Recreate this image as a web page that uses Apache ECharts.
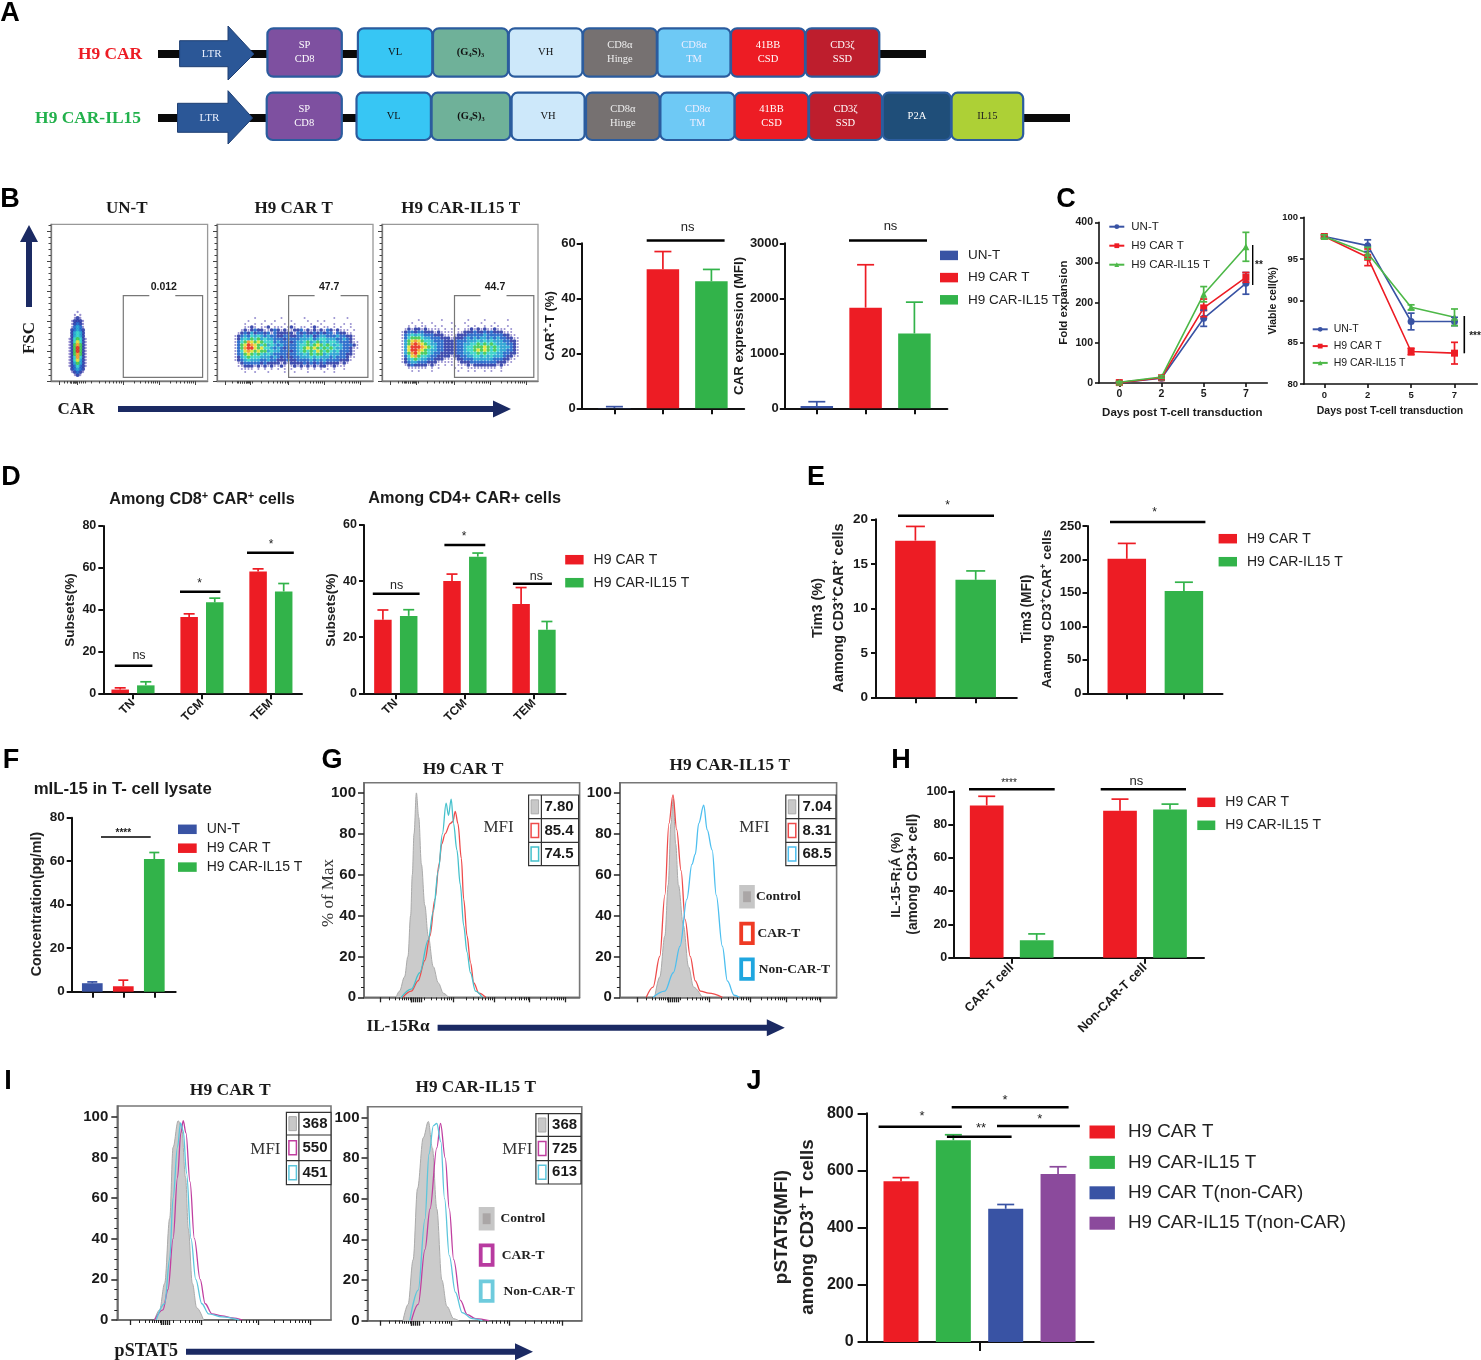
<!DOCTYPE html>
<html><head><meta charset="utf-8">
<style>html,body{margin:0;padding:0;background:#fff}#c{width:1481px;height:1360px}</style>
<script src="https://cdn.jsdelivr.net/npm/echarts@6/dist/echarts.min.js"></script>
</head><body><div id="c"></div>
<script>
/* ---------- data ---------- */
const groupNames3 = ['UN-T','H9 CAR T','H9 CAR-IL15 T'];
const carPctValues = [0.1,50.6,46.2],  carPctTops = [0.6,57,50.5];
const carMfiValues = [40,1830,1360],   carMfiTops = [120,2610,1930];
const cDays = ['0','2','5','7'];
const foldUnT  = [1,12,161,248],  foldUnTErr  = [1,3,20,27];
const foldCar  = [1,13,187,263],  foldCarErr  = [2,3,22,12];
const foldIL15 = [2,15,221,339],  foldIL15Err = [2,3,19,36];
const viaUnT   = [97.7,96.6,87.5,87.5], viaUnTErr  = [0.2,0.7,1,0.5];
const viaCar   = [97.7,95.2,83.9,83.7], viaCarErr  = [0.2,1,0.4,1.3];
const viaIL15  = [97.7,95.7,89.2,88],   viaIL15Err = [0.2,0.7,0.3,1];
const subsetCats = ['TN','TCM','TEM'];
const cd8Car = [1.8,36.5,58.3],  cd8CarTops = [2.6,38,59.5];
const cd8IL  = [3.8,43.5,48.7],  cd8ILTops  = [5.5,45.5,52.5];
const cd4Car = [26.2,40,31.8],   cd4CarTops = [29.7,42.5,37.7];
const cd4IL  = [27.6,48.7,22.7], cd4ILTops  = [29.8,50,25.6];
const tim3Pct = [17.6,13.2], tim3PctTops = [19.2,14.2];
const tim3Mfi = [201,153],   tim3MfiTops = [224,166];
const mil15 = [3.9,2.5,61],  mil15Tops = [4.5,5.3,64];
const il15rCats = ['CAR-T cell','Non-CAR-T cell'];
const il15rCar = [91.5,88.3], il15rCarTops = [97,95.3];
const il15rIL  = [10.5,89],   il15rILTops  = [14.3,92.3];
const pstatNames = ['H9 CAR T','H9 CAR-IL15 T','H9 CAR T(non-CAR)','H9 CAR-IL15 T(non-CAR)'];
const pstat = [562,706,466,588], pstatTops = [575,725,481,613];

/* histograms: [channel, % of max] */
const g1Control=[[225,0],[235,3],[250,10],[260,20],[268,40],[273,60],[278,80],[285,100],[292,88],[300,65],[310,45],[320,30],[335,15],[350,7],[365,2],[380,0]];
const g1Car=[[245,0],[270,3],[290,8],[310,18],[325,30],[340,48],[352,65],[360,75],[370,80],[385,85],[393,86],[400,91],[408,85],[418,68],[425,48],[435,30],[445,17],[455,7],[470,2],[490,0]];
const g1Non=[[240,0],[270,4],[295,12],[320,28],[335,42],[350,62],[362,80],[373,95],[380,89],[388,97],[395,85],[405,72],[415,55],[425,35],[435,22],[445,12],[460,3],[480,0]];
const g2Control=[[990,0],[1005,10],[1020,30],[1030,55],[1038,85],[1045,97],[1052,75],[1060,55],[1075,35],[1090,15],[1105,5],[1130,0]];
const g2Car=[[965,0],[985,5],[1005,20],[1020,50],[1032,85],[1044,99],[1055,82],[1068,62],[1080,38],[1095,20],[1110,8],[1125,3],[1150,2],[1190,0]];
const g2Non=[[985,0],[1020,3],[1045,12],[1065,25],[1085,48],[1100,65],[1110,70],[1120,85],[1135,94],[1145,82],[1160,72],[1172,50],[1190,25],[1205,8],[1225,1],[1240,0]];
const i1Control=[[250,0],[265,5],[280,18],[295,50],[305,85],[320,98],[330,95],[342,70],[350,45],[362,18],[375,6],[395,0]];
const i1Car=[[250,0],[275,5],[290,15],[305,40],[318,70],[328,92],[335,98],[343,92],[355,68],[368,40],[385,20],[400,8],[420,3],[450,2],[480,1],[510,0]];
const i1Non=[[255,0],[280,8],[295,30],[305,60],[318,85],[327,97],[335,93],[345,72],[358,40],[372,20],[390,8],[410,3],[450,1.5],[500,0]];
const i2Control=[[985,0],[1000,8],[1015,30],[1028,65],[1045,90],[1060,98],[1072,85],[1085,55],[1100,20],[1115,7],[1135,1],[1150,0]];
const i2Car=[[1010,0],[1030,8],[1050,35],[1065,55],[1085,85],[1096,97],[1110,80],[1122,55],[1135,30],[1155,10],[1175,3],[1200,1],[1240,0]];
const i2Non=[[1005,0],[1030,15],[1050,50],[1062,82],[1075,96],[1085,97],[1097,88],[1108,60],[1122,32],[1140,14],[1160,4],[1190,1],[1220,0]];
const gMfi1=['7.80','85.4','74.5'], gMfi2=['7.04','8.31','68.5'], iMfi1=['368','550','451'], iMfi2=['368','725','613'];

/* flow density, read by eye: one digit per cell, 0 = empty, 9 = densest */
const flowUnT=['0001000','0010100','0012100','0122210','0123210','0134310','0234320','0245420','0245420','1256521','1257521','1268621','1269621','1269621','1268621','1258521','1257421','1246421','1235321','0234320','0123210','0012100'];
const flowCar=[
'0000000100000001000000100000000100010000',
'0000010000100100001000010010100000000000',
'0000100101001000100100001001000100101000',
'0000112101120111012101101210110101001000',
'0001212322112321211223121212132121110100',
'0012324233231322222132322323233132211000',
'0123435454343322332233434234433343322100',
'0124546564544333233334445345544433432100',
'0135687676555343332344564564545543332110',
'0136798765645434333345565676565454333210',
'0136899767554343233345676765656544332110',
'0135787676645443332345656576565453332100',
'0134676565454333323344546566454443322100',
'0124565554443432322334445454443433321100',
'0123454443343322232233334343433332221000',
'0012333332322221212222323232322221210000',
'0011222121212112101212121212211211100000',
'0001111010101010101001010101010100100000',
'0000100100010000100100010000100100000000'];
const flowIL=[
'0000001000000100000001000010000001000000',
'0000100100100000100010000100010000000000',
'0001010110010100010001010010101001000000',
'0012122121111010101011212121121110100000',
'0123323322212111101122232232322211100000',
'0134545433322211112223333343333322110000',
'0135666544333222122234343443434332211000',
'0146787655433322223334445454544433221000',
'0146898765443322223344556565654443321000',
'0147999876543322223345566676565444321000',
'0147998765443322223345567676565443321000',
'0146897665433222223344556565554433221000',
'0135786554332222122334455454544432211000',
'0124565443322211112233344444433322110000',
'0123443332221111101222333333332221100000',
'0012322221211010101112122222221211000000',
'0001111110101000010101111111110100000000',
'0000101000100000001001010010100100000000'];
const flowGates=['0.012','47.7','44.7'];
const flowTitles=['UN-T','H9 CAR T','H9 CAR-IL15 T'];

const carParts=[['SP\nCD8','#7E50A0','#fff'],['VL','#37C6F4','#111'],['(G₄S)₃','#6FB199','#111'],['VH','#CDE8FA','#111'],['CD8α\nHinge','#767171','#eee'],['CD8α\nTM','#6EC9F5','#eef'],['41BB\nCSD','#ED1C24','#fff'],['CD3ζ\nSSD','#BE1E2D','#fff'],['P2A','#1F4E79','#fff'],['IL15','#ADD036','#222']];

/* ---------- builders ---------- */
const SANS='"Liberation Sans",Arial,sans-serif', SERIF='"Liberation Serif","Times New Roman",serif';
const RED='#ED1C24',GREEN='#32B34A',BLUE='#3953A4',PURPLE='#8B4A9C',INK='#1a1a1a',NAVY='#1B2A63';
const UP=Math.PI/2;
const grids=[],xAxes=[],yAxes=[],series=[],legends=[],G=[];

function T(x,y,text,o={}){
  const size=o.size||13, weight=o.weight||'normal', family=o.family||SANS, fill=o.color||INK;
  G.push({type:'text',x,y,rotation:o.rot||0,z:100,silent:true,style:{text,fontSize:size,fontWeight:weight,fontFamily:family,fill,
    align:o.align||'center',verticalAlign:'middle',lineHeight:o.lh,
    rich:{sup:{fontSize:size*0.68,fontWeight:weight,fontFamily:family,fill,verticalAlign:'top',lineHeight:size*1.15},n:{fontSize:size,fontWeight:weight,fontFamily:family,fill,lineHeight:size*1.15}}}});
}
function R(x,y,w,h,fill,o={}){G.push({type:'rect',z:o.z||100,silent:true,shape:{x,y,width:w,height:h,r:o.r||0},style:{fill,stroke:o.stroke||null,lineWidth:o.lw||0}});}
function L(x1,y1,x2,y2,color,lw){G.push({type:'line',z:100,silent:true,shape:{x1,y1,x2,y2},style:{stroke:color||'#000',lineWidth:lw||1}});}
function P(points,fill,stroke,lw,z){G.push({type:'polygon',z:z||100,silent:true,shape:{points},style:{fill,stroke:stroke||null,lineWidth:lw||0}});}
function arrowR(x1,x2,y,sh,hw,hl,c){P([[x1,y-sh/2],[x2-hl,y-sh/2],[x2-hl,y-hw/2],[x2,y],[x2-hl,y+hw/2],[x2-hl,y+sh/2],[x1,y+sh/2]],c);}
function arrowU(x,y1,y2,sh,hw,hl,c){P([[x-sh/2,y1],[x-sh/2,y2+hl],[x-hw/2,y2+hl],[x,y2],[x+hw/2,y2+hl],[x+sh/2,y2+hl],[x+sh/2,y1]],c);}
function sig(x1,x2,y,text,tx,ty,size){L(x1,y,x2,y,'#000',2.4);T(tx,ty,text,{size:size||12,color:'#222'});}
function leg(x,y,names,o){
  legends.push({show:true,orient:'vertical',left:x,top:y-o.lh/2,padding:0,data:names,itemWidth:o.w,itemHeight:o.h,itemGap:o.gap-o.lh,selectedMode:false,
    textStyle:{fontFamily:SANS,fontSize:o.size,color:'#222',lineHeight:o.lh,padding:[0,0,0,o.tp||5]},icon:o.icon});
}
function logTicks(maj){const out=[];for(let i=0;i<maj.length-1;i++){for(let k=2;k<10;k++)out.push(maj[i]+(maj[i+1]-maj[i])*Math.log10(k));}return out;}

function errSeries(xi,yi,color,cap,both,data){
  series.push({type:'custom',xAxisIndex:xi,yAxisIndex:yi,clip:false,silent:true,z:both?4:1,encode:{x:0,y:[1,2]},data,
    renderItem(p,api){
      const x=api.value(0),a=api.coord([x,api.value(1)]),b=api.coord([x,api.value(2)]);
      const st={stroke:color,lineWidth:1.7};
      const ch=[{type:'line',shape:{x1:a[0],y1:a[1],x2:b[0],y2:b[1]},style:st},{type:'line',shape:{x1:b[0]-cap/2,y1:b[1],x2:b[0]+cap/2,y2:b[1]},style:st}];
      if(both)ch.push({type:'line',shape:{x1:a[0]-cap/2,y1:a[1],x2:a[0]+cap/2,y2:a[1]},style:st});
      return {type:'group',children:ch};
    }});
}
function axisBase(f,m){return{type:'value',axisLine:{show:true,onZero:false,lineStyle:{color:'#111',width:2}},axisTick:{show:true,length:5,lineStyle:{color:'#111',width:2}},splitLine:{show:false},axisLabel:{fontFamily:SANS,fontWeight:'bold',fontSize:f,color:INK,margin:m||6,formatter:v=>String(v)}};}

function barPanel(p,groups){
  const gi=grids.length, xi=xAxes.length, yi=yAxes.length;
  grids.push({left:p.x0,top:p.yt,width:p.x1-p.x0,height:p.y0-p.yt});
  const xa=axisBase(p.size);
  xa.gridIndex=gi;xa.min=(p.x0-p.first)/p.gap;xa.max=(p.x1-p.first)/p.gap;xa.position='bottom';
  xa.axisTick.customValues=p.ticks;xa.axisTick.length=p.tickLen||6;
  if(p.names){xa.axisLabel=Object.assign(xa.axisLabel,{customValues:p.ticks,formatter:v=>p.names[Math.round(v)],rotate:p.rot||45,margin:8,fontSize:p.nameSize||p.size,fontWeight:p.nameWeight||'bold',hideOverlap:false});}
  else xa.axisLabel={show:false};
  xAxes.push(xa);
  const ya=axisBase(p.size,p.margin);
  ya.gridIndex=gi;ya.min=0;ya.max=p.max;ya.interval=p.step;ya.axisTick.length=p.tickLen||5;
  yAxes.push(ya);
  groups.forEach(g=>{
    series.push({type:'bar',name:g.name,xAxisIndex:xi,yAxisIndex:yi,barWidth:p.barW,barGap:'-100%',itemStyle:{color:g.color},z:2,data:g.pts.map(q=>[q[0],q[1]])});
    errSeries(xi,yi,g.color,p.cap,false,g.pts.map(q=>[q[0],q[1],q[2]]));
  });
}
function single(names,colors,vals,tops){return names.map((n,i)=>({name:n,color:colors[i],pts:[[i,vals[i],tops[i]]]}));}
function paired(off,a,aT,b,bT){return[
  {name:'H9 CAR T',color:RED,pts:a.map((v,i)=>[i-off,v,aT[i]])},
  {name:'H9 CAR-IL15 T',color:GREEN,pts:b.map((v,i)=>[i+off,v,bT[i]])}];}

function linePanel(p,sets){
  const gi=grids.length, xi=xAxes.length, yi=yAxes.length;
  grids.push({left:p.x0,top:p.yt,width:p.x1-p.x0,height:p.y0-p.yt});
  const xa=axisBase(p.size);xa.gridIndex=gi;xa.min=(p.x0-p.first)/p.gap;xa.max=(p.x1-p.first)/p.gap;
  xa.axisLine.lineStyle.width=1.6;xa.axisTick.lineStyle.width=1.6;xa.axisTick.length=4;
  const ticks=cDays.map((d,i)=>i);xa.axisTick.customValues=ticks;
  Object.assign(xa.axisLabel,{customValues:ticks,formatter:v=>cDays[Math.round(v)],margin:6});
  xAxes.push(xa);
  const ya=axisBase(p.size);ya.gridIndex=gi;ya.min=p.min;ya.max=p.max;ya.interval=p.step;
  ya.axisLine.lineStyle.width=1.6;ya.axisTick.lineStyle.width=1.6;ya.axisTick.length=4;
  yAxes.push(ya);
  sets.forEach(s=>{
    errSeries(xi,yi,s.color,7,true,s.v.map((v,i)=>[i,v-s.e[i],v+s.e[i]]));
    series.push({type:'line',name:s.name,xAxisIndex:xi,yAxisIndex:yi,symbol:s.sym,symbolSize:7,lineStyle:{color:s.color,width:1.6},itemStyle:{color:s.color},z:3,data:s.v.map((v,i)=>[i,v])});
  });
}

function histPanel(p,sets){
  const gi=grids.length, xi=xAxes.length, yi=yAxes.length;
  grids.push({left:p.x0,top:p.yt,width:p.x1-p.x0,height:p.yb-p.yt,show:true,borderColor:'#777',borderWidth:1.6,backgroundColor:'#fff'});
  const yMax=(p.yb-p.yt)/p.perPct, yMin=0;
  const base={type:'value',gridIndex:gi,splitLine:{show:false},axisLine:{show:true,onZero:false,lineStyle:{color:'#666',width:1.5}}};
  const tick=(len,w,vals)=>({show:true,length:len,customValues:vals,lineStyle:{color:'#222',width:w}});
  const pct20=[0,20,40,60,80,100], pct5=[];for(let v=0;v<=100;v+=5)if(v%20)pct5.push(v);
  const xRange={min:p.chL,max:p.chR};
  xAxes.push(Object.assign({},base,xRange,{axisTick:tick(3,1,logTicks(p.maj).filter(v=>v>p.chL&&v<p.chR)),axisLabel:{show:false}}));
  xAxes.push(Object.assign({},base,xRange,{position:'bottom',axisLine:{show:false},axisTick:tick(5,1.3,p.maj.concat(p.dense)),axisLabel:{show:false}}));
  const pctRange={min:yMin,max:yMax};
  yAxes.push(Object.assign({},base,pctRange,{interval:20,axisTick:tick(6,1.5,pct20),axisLabel:{customValues:pct20,fontFamily:SANS,fontWeight:'bold',fontSize:p.size||15,color:INK,margin:p.margin||8}}));
  yAxes.push(Object.assign({},base,pctRange,{position:'left',axisLine:{show:false},axisTick:tick(3,1,pct5),axisLabel:{show:false}}));
  sets.forEach((s,i)=>series.push({type:'line',xAxisIndex:xi,yAxisIndex:yi,silent:true,symbol:'none',smooth:0.35,smoothMonotone:'x',clip:true,
    lineStyle:{color:s.color,width:s.fill?1:1.3},areaStyle:s.fill?{color:s.fill,opacity:1,origin:'start'}:undefined,z:2+i,data:s.d}));
}

function flowPanel(p){
  const gi=grids.length, xi=xAxes.length, yi=yAxes.length;
  const w=p.x1-p.x0,h=p.yb-p.yt;
  grids.push({left:p.x0,top:p.yt,width:w,height:h,show:true,borderColor:'#999',borderWidth:1.3,backgroundColor:'#fff'});
  const base={type:'value',gridIndex:gi,splitLine:{show:false},axisLine:{show:true,onZero:false,lineStyle:{color:'#777',width:1.3}},axisLabel:{show:false}};
  const tk=(len,vals)=>({show:true,length:len,customValues:vals,lineStyle:{color:'#444',width:1}});
  const maj=p.maj, dense=[];for(let v=p.dense[0];v<=p.dense[1];v+=2)dense.push(v);
  xAxes.push(Object.assign({},base,{min:0,max:w,axisTick:tk(2.5,logTicks(maj).concat(dense))}));
  const yMaj=[],yMin=[];for(let v=0;v<=h;v+=6){(v%30===0?yMaj:yMin).push(v);}
  yAxes.push(Object.assign({},base,{min:0,max:h,axisTick:tk(2.5,yMin)}));
  xAxes.push(Object.assign({},base,{min:0,max:w,position:'bottom',axisLine:{show:false},axisTick:tk(4,maj)}));
  yAxes.push(Object.assign({},base,{min:0,max:h,position:'left',axisLine:{show:false},axisTick:tk(4,yMaj)}));
  const pal=[null,'#8f86cc','#2a3aa6','#1c62c8','#1f9fd0','#2fd0c8','#3cc850','#dfe030','#f5982a','#e62a1c'];
  const pts=[];
  p.rows.forEach((row,r)=>[...row].forEach((d,c)=>{const n=+d;if(n)pts.push([p.cx+c*p.cw-p.x0,p.yb-(p.cy+r*p.ch),n]);}));
  series.push({type:'scatter',xAxisIndex:xi,yAxisIndex:yi,silent:true,symbol:'circle',symbolSize:d=>d[2]>=2?p.dot:p.dot*0.55,large:false,
    itemStyle:{color:q=>pal[q.value[2]],opacity:0.9},z:2,data:pts.sort((a,b)=>a[2]-b[2])});
  const gx=p.gx, gy1=295.7, gy2=377.3;
  R(gx,gy1,79.3,gy2-gy1,'rgba(0,0,0,0)',{stroke:'#777',lw:1.2});
  R(gx+26,gy1-1.5,26,3,'#fff');
  T(gx+40.5,286.7,p.label,{size:10.5,weight:'bold'});
}

/* ---------- A: constructs ---------- */
function construct(y,top,bot,endX,labelTxt,labelCol,labelX,ltr,boxes){
  R(158,y-4,endX-158,8,'#0a0a0a',{z:90});
  T(labelX,y+1,labelTxt,{size:17.4,weight:'bold',family:SERIF,color:labelCol});
  P([[ltr[0],ltr[2]],[228,ltr[2]],[228,ltr[4]],[ltr[1],y],[228,ltr[5]],[228,ltr[3]],[ltr[0],ltr[3]]],'#2B5797','#1F3F73',1,95);
  T(ltr[0]+32,y,'LTR',{size:11,family:SERIF,color:'#e8eefc'});
  boxes.forEach((b,i)=>{const part=carParts[i];
    R(b[0],top,b[1]-b[0],bot-top,part[1],{stroke:'#2B5C9E',lw:2.2,r:6,z:95});
    T((b[0]+b[1])/2,(top+bot)/2,part[0],{size:10.5,family:SERIF,color:part[2],lh:14,weight:i===2?'bold':'normal'});
  });
}
construct(54,28.3,76.7,926,'H9 CAR',RED,110,[179.6,254,40.7,66.7,26,80],
  [[267.4,341.8],[357.9,432.3],[433,508],[508.8,582.5],[583,656.8],[657.5,730.5],[731,805],[805.6,879.3]]);
construct(118,92.7,140,1070,'H9 CAR-IL15','#22B14C',88,[177.5,252.6,103.3,132.3,90.7,144],
  [[266.7,341.8],[356.5,430.9],[431.6,510.2],[511.6,584.6],[586,659.6],[660.4,734.7],[734.7,808.4],[809,882],[882.8,951],[951.6,1023.2]]);

/* ---------- B ---------- */
[{x0:51,x1:207.6,rows:flowUnT,cx:69.5,cw:2.7,cy:312,ch:3,dot:4.2,gx:123.3,maj:[59,77,123.3,159,195],dense:[71,86]},
 {x0:217,x1:373,rows:flowCar,cx:232,cw:3.3,cy:318,ch:3,dot:3.7,gx:288.6,maj:[225,250,288.6,324,360],dense:[238,252]},
 {x0:382,x1:538,rows:flowIL,cx:399,cw:3.3,cy:320,ch:3,dot:3.7,gx:454.5,maj:[390,416,454.5,490,526],dense:[404,418]}].forEach((f,i)=>{
  flowPanel(Object.assign({},f,{yt:224.3,yb:381,label:flowGates[i],maj:f.maj.map(v=>v-f.x0),dense:f.dense.map(v=>v-f.x0)}));
  T([126.7,293.7,460.7][i],208.3,flowTitles[i],{size:17,weight:'bold',family:SERIF});
});
arrowU(29,307,225,6,18,17,NAVY);
T(30,338,'FSC',{size:17,weight:'bold',family:SERIF,rot:UP});
T(76,410,'CAR',{size:17,weight:'bold',family:SERIF});
arrowR(118,511,409,6,17,18,NAVY);

const cols3=[BLUE,RED,GREEN];
barPanel({x0:581.7,x1:744.2,y0:408.3,yt:243.3,max:60,step:20,first:614.4,gap:48.5,barW:32.5,cap:17,ticks:[0,1,2],size:13},single(groupNames3,cols3,carPctValues,carPctTops));
barPanel({x0:784.8,x1:947.4,y0:408.3,yt:243.3,max:3000,step:1000,first:816.8,gap:48.8,barW:32.5,cap:17,ticks:[0,1,2],size:13},single(groupNames3,cols3,carMfiValues,carMfiTops));
T(550,326,'CAR{sup|+}-T (%)',{size:13,weight:'bold',rot:UP});
T(739,326,'CAR expression (MFI)',{size:13.3,weight:'bold',rot:UP});
sig(646.7,724.6,240.5,'ns',687.7,227,13);
sig(849,927,240.5,'ns',890.5,226.7,13);
leg(940,255.4,groupNames3,{w:18,h:9.5,gap:22.2,lh:16,size:13.5,tp:5,icon:'rect'});

/* ---------- C ---------- */
const nU='UN-T ',nC='H9 CAR T ',nI='H9 CAR-IL15 T ';
linePanel({x0:1099,x1:1267.3,y0:383,yt:222.3,min:0,max:400,step:100,first:1119.3,gap:42.2,size:10.5},[
  {name:nU,color:BLUE,sym:'circle',v:foldUnT,e:foldUnTErr},
  {name:nC,color:RED,sym:'rect',v:foldCar,e:foldCarErr},
  {name:nI,color:'#4DB848',sym:'triangle',v:foldIL15,e:foldIL15Err}]);
linePanel({x0:1304,x1:1477.3,y0:384,yt:217.3,min:80,max:100,step:5,first:1324.3,gap:43.4,size:9.5},[
  {name:nU,color:BLUE,sym:'circle',v:viaUnT,e:viaUnTErr},
  {name:nC,color:RED,sym:'rect',v:viaCar,e:viaCarErr},
  {name:nI,color:'#4DB848',sym:'triangle',v:viaIL15,e:viaIL15Err}]);
leg(1108.3,226.7,[nU,nC,nI],{w:15,h:6,gap:19,lh:14,size:11.5,tp:2});
leg(1311.7,329.3,[nU,nC,nI],{w:15,h:6,gap:16.8,lh:14,size:10.5,tp:1});
T(1064,302.7,'Fold expansion',{size:11.5,weight:'bold',rot:UP});
T(1182.3,412.7,'Days post T-cell transduction',{size:11.5,weight:'bold'});
T(1272.7,300.7,'Viable cell(%)',{size:10.5,weight:'bold',rot:UP});
T(1390,411,'Days post T-cell transduction',{size:10.5,weight:'bold'});
L(1252.7,245,1252.7,285,'#000',1.4);T(1259,265,'**',{size:10,weight:'bold'});
L(1464.3,316,1464.3,353.3,'#000',1.6);T(1475,336,'***',{size:10,weight:'bold'});

/* ---------- D ---------- */
barPanel({x0:103.3,x1:302,y0:693.3,yt:526,max:80,step:20,first:133,gap:68.95,barW:17.5,cap:11,ticks:[0,1,2],names:subsetCats,size:12.5,nameSize:12,margin:7},paired(12.8/68.95,cd8Car,cd8CarTops,cd8IL,cd8ILTops));
barPanel({x0:364,x1:565.6,y0:693.3,yt:525,max:60,step:20,first:395.8,gap:69.1,barW:17.5,cap:11,ticks:[0,1,2],names:subsetCats,size:12.5,nameSize:12,margin:7},paired(12.9/69.1,cd4Car,cd4CarTops,cd4IL,cd4ILTops));
T(202,500,'Among CD8{sup|+} CAR{sup|+} cells',{size:16.2,weight:'bold'});
T(464.6,499,'Among CD4+ CAR+ cells',{size:16.3,weight:'bold'});
T(69.8,610,'Subsets(%)',{size:13.5,weight:'bold',rot:UP,color:'#222'});
T(331.5,610,'Subsets(%)',{size:13.5,weight:'bold',rot:UP,color:'#222'});
sig(114.8,152.4,665.7,'ns',139,655.7,12.5);
sig(180,220.4,591.7,'*',199.7,584,12);
sig(247,293.8,552.7,'*',271,545,12);
sig(372.8,419.6,593.7,'ns',396.7,585.7,12.5);
sig(444.4,485.3,545,'*',464,537,12);
sig(512.9,551.9,583.7,'ns',536.3,576.3,12.5);
leg(565.2,559.7,['H9 CAR T','H9 CAR-IL15 T'],{w:18.4,h:9.5,gap:23,lh:16,size:14,tp:5,icon:'rect'});

/* ---------- E ---------- */
barPanel({x0:876,x1:1016.8,y0:697.3,yt:519.3,max:20,step:5,first:915.4,gap:60.3,barW:40.5,cap:19,ticks:[0,1],size:13.5,margin:8},single(['H9 CAR T','H9 CAR-IL15 T'],[RED,GREEN],tim3Pct,tim3PctTops));
barPanel({x0:1087.5,x1:1222.5,y0:693.3,yt:526,max:250,step:50,first:1126.8,gap:57.1,barW:38.5,cap:18,ticks:[0,1],size:13},single(['H9 CAR T','H9 CAR-IL15 T'],[RED,GREEN],tim3Mfi,tim3MfiTops));
T(817.9,608,'Tim3 (%)',{size:14.5,weight:'bold',rot:UP,color:'#222'});
T(838.6,608,'Aamong CD3{sup|+}CAR{sup|+} cells',{size:14.4,weight:'bold',rot:UP,color:'#222'});
T(1027.5,609,'Tim3 (MFI)',{size:13.8,weight:'bold',rot:UP,color:'#222'});
T(1047,609,'Aamong CD3{sup|+}CAR{sup|+} cells',{size:13.5,weight:'bold',rot:UP,color:'#222'});
sig(898,994,515.7,'*',947.5,506,12);
sig(1110,1205.4,522,'*',1154.6,512.5,12);
leg(1218.6,538.7,['H9 CAR T','H9 CAR-IL15 T'],{w:18.4,h:9.5,gap:23,lh:16,size:14,tp:5,icon:'rect'});

/* ---------- F ---------- */
barPanel({x0:71.7,x1:175.7,y0:991.7,yt:817.7,max:80,step:20,first:92.3,gap:31,barW:20.7,cap:10,ticks:[0,1,2],size:13.5,margin:7},single(groupNames3,cols3,mil15,mil15Tops));
T(122.7,789.3,'mIL-15 in T- cell lysate',{size:16.8,weight:'bold'});
T(36.7,904,'Concentration(pg/ml)',{size:14.3,weight:'bold',rot:UP,color:'#222'});
L(101,837,150.7,837,'#000',1.6);T(123.3,833.5,'****',{size:10,weight:'bold'});
leg(178,829.3,groupNames3,{w:18.7,h:9.5,gap:18.9,lh:16,size:14,tp:5,icon:'rect'});

/* ---------- G ---------- */
const gy=[782.7,997.3], iy1=[1106,1320], iy2=[1106.7,1320.7];
histPanel({x0:364,x1:579.6,yt:gy[0],yb:gy[1],perPct:2.044,chL:130,chR:768,maj:[178,270,395,515,620,725],dense:[270,276,282,288,294,300]},
  [{color:'#aaa',fill:'#cbcbcb',d:g1Control},{color:'#EE4B4B',d:g1Car},{color:'#45C1CC',d:g1Non}]);
histPanel({x0:619.9,x1:836.6,yt:gy[0],yb:gy[1],perPct:2.044,chL:887,chR:1528,maj:[937,1030,1150,1272,1378,1480],dense:[1030,1036,1042,1048,1054,1060]},
  [{color:'#aaa',fill:'#cbcbcb',d:g2Control},{color:'#EE4B4B',d:g2Car},{color:'#4DBFEF',d:g2Non}]);
T(463,769,'H9 CAR T',{size:17.5,weight:'bold',family:SERIF});
T(729.7,766,'H9 CAR-IL15 T',{size:17.2,weight:'bold',family:SERIF});
T(329,893,'% of Max',{size:17,family:SERIF,rot:UP,color:'#333'});
T(498.5,828,'MFI',{size:17,family:SERIF,color:'#333'});
T(754.4,828,'MFI',{size:17,family:SERIF,color:'#333'});
function mfiTable(x1,x2,xs,y1,y2,rows,vals,tx,cols,fs){
  R(x1,y1,x2-x1,y2-y1,'#fff',{stroke:'#333',lw:1.2});
  L(xs,y1,xs,y2,'#333',1.2);rows.forEach(r=>L(x1,r,x2,r,'#333',1.2));
  const ys=[y1,...rows,y2];
  vals.forEach((v,i)=>{
    const cy=(ys[i]+ys[i+1])/2;
    if(i===0)R(x1+2.5,cy-7,7.5,14,'#c8c8c8',{stroke:'#aaa',lw:1});
    else R(x1+2.5,cy-7,7.5,14,'#fff',{stroke:cols[i],lw:1.5});
    T(tx,cy,v,{size:fs||15,weight:'bold'});
  });
}
mfiTable(528.6,578.6,541.4,795,865.7,[818.7,842.3],gMfi1,559,[0,'#EE4B4B','#45C1CC']);
mfiTable(785.8,835.9,798.7,795,865.7,[818.7,842.3],gMfi2,817,[0,'#EE4B4B','#4DBFEF']);
function swatchKey(x,h,w,ys,cols,txtX,labels){
  ys.forEach((y,i)=>{
    if(i===0){R(x,y,w,h,'#c6c6c6');R(x+w*0.25,y+h*0.27,w*0.5,h*0.46,'#aaa6a6');}
    else R(x+2,y+2,w-4,h-4,'#fff',{stroke:cols[i],lw:3.8});
    T(txtX[i],y+h/2,labels[i],{size:13.5,weight:'bold',family:SERIF,align:'left',color:'#222'});
  });
}
swatchKey(739.2,23.5,15.6,[885,921.7,957.3],[0,'#EF3B24','#1FA6DF'],[756,757.5,758.8],['Control','CAR-T','Non-CAR-T']);
T(398,1026.7,'IL-15Rα',{size:17.2,weight:'bold',family:SERIF});
arrowR(437.6,784.8,1027.7,6,17,18,NAVY);

/* ---------- H ---------- */
barPanel({x0:953.3,x1:1204,y0:957.7,yt:791.3,max:100,step:20,first:1011.7,gap:133.3,barW:33.7,cap:17,ticks:[0,1],names:il15rCats,size:12.5,nameSize:12.5},paired(25/133.3,il15rCar,il15rCarTops,il15rIL,il15rILTops));
T(896,875,'IL-15-R¡Á (%)',{size:13.6,weight:'bold',rot:UP,color:'#222'});
T(913.3,874.3,'(among CD3+ cell)',{size:13.8,weight:'bold',rot:UP,color:'#222'});
sig(969,1054.7,789.3,'****',1009,783.5,10);
sig(1100.7,1186,789.3,'ns',1136.3,781,13);
leg(1197.3,802.3,['H9 CAR T','H9 CAR-IL15 T'],{w:18,h:9.5,gap:23,lh:16,size:14,tp:5,icon:'rect'});

/* ---------- I ---------- */
histPanel({x0:117.3,x1:331,yt:iy1[0],yb:iy1[1],perPct:2.033,chL:140,chR:772,margin:9,maj:[178,270,388,558,712],dense:[270,276,282,288,294]},
  [{color:'#aaa',fill:'#cbcbcb',d:i1Control},{color:'#C03FA0',d:i1Car},{color:'#5CC6DC',d:i1Non}]);
histPanel({x0:367.5,x1:581.8,yt:iy2[0],yb:iy2[1],perPct:2.033,chL:880,chR:1514,margin:8,maj:[917,1010,1128,1300,1455],dense:[1010,1016,1022,1028,1034]},
  [{color:'#aaa',fill:'#cbcbcb',d:i2Control},{color:'#C03FA0',d:i2Car},{color:'#5CC6DC',d:i2Non}]);
T(230.2,1090.7,'H9 CAR T',{size:17.5,weight:'bold',family:SERIF});
T(475.7,1088,'H9 CAR-IL15 T',{size:17.2,weight:'bold',family:SERIF});
T(265.4,1150,'MFI',{size:17,family:SERIF,color:'#333'});
T(517.3,1150,'MFI',{size:17,family:SERIF,color:'#333'});
mfiTable(286.4,331,298.9,1112.3,1184.7,[1135,1160.7],iMfi1,315,[0,'#C03FA0','#5CC6DC']);
mfiTable(535.9,581,548.4,1113.7,1184,[1136.3,1160.7],iMfi2,564.6,[0,'#C03FA0','#5CC6DC']);
swatchKey(478.7,23.5,15.9,[1207,1243.3,1279.3],[0,'#B83BA0','#6ECBDD'],[500.4,501.7,503.4],['Control','CAR-T','Non-CAR-T']);
T(146.3,1351.7,'pSTAT5',{size:18,weight:'bold',family:SERIF});
arrowR(186,533,1351.7,6,17,18,NAVY);

/* ---------- J ---------- */
barPanel({x0:866.6,x1:1093.6,y0:1342,yt:1113.3,max:800,step:200,first:901,gap:52.35,barW:35,cap:17,ticks:[1.5],size:16,tickLen:9,margin:13},single(pstatNames,[RED,GREEN,BLUE,PURPLE],pstat,pstatTops));
T(782.2,1227,'pSTAT5(MFI)',{size:19,weight:'bold',rot:UP,color:'#222'});
T(807.5,1227,'among CD3{sup|+} T cells',{size:18.8,weight:'bold',rot:UP,color:'#222'});
sig(878.6,961.8,1126.7,'*',922,1116,13);
sig(951.7,1068.6,1107.3,'*',1005,1100,13);
sig(946.9,1011.6,1136.7,'**',981,1128,13);
sig(997,1079.9,1126,'*',1039.7,1119,13);
leg(1089.5,1132,pstatNames,{w:25.4,h:13,gap:30.4,lh:20,size:18.8,tp:8,icon:'rect'});

/* ---------- panel letters ---------- */
[['A',10,14],['B',10,200],['C',1066,200],['D',11,478],['E',816,478],['F',11,761],['G',332,761],['H',901,761],['I',8,1082],['J',754,1082]].forEach(a=>T(a[1],a[2],a[0],{size:27,weight:'bold',color:'#000'}));

/* ---------- render ---------- */
const chart=echarts.init(document.getElementById('c'),null,{renderer:'canvas',width:1481,height:1360});
chart.setOption({animation:false,backgroundColor:'#fff',tooltip:{show:false},grid:grids,xAxis:xAxes,yAxis:yAxes,series,legend:legends,graphic:{elements:G}});
</script></body></html>
